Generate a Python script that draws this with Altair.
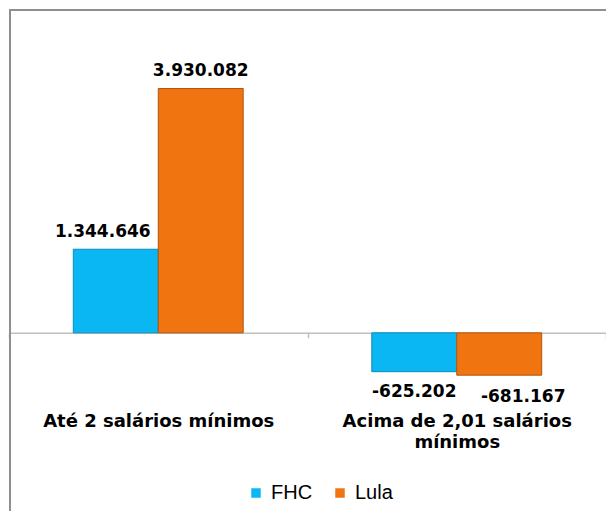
import altair as alt
import pandas as pd

titulo = "nível de renda"
categorias = ["Até 2 salários mínimos", "Acima de 2,01 salários mínimos"]
series = ["FHC", "Lula"]
valores_fhc = [1344646, -625202]
valores_lula = [3930082, -681167]
cores = ["#0BB7F2", "#F07511"]
bordas = ["#0A8CBA", "#B0560E"]

rows = []
for i, c in enumerate(categorias):
    rows.append({"categoria": c, "serie": "FHC", "valor": valores_fhc[i]})
    rows.append({"categoria": c, "serie": "Lula", "valor": valores_lula[i]})
df = pd.DataFrame(rows)
df["rotulo"] = df["valor"].map(lambda v: f"{v:,}".replace(",", "."))

H = 373
dom = [-1000000, 5000000]
zero_off = H * (0 - dom[0]) / (dom[1] - dom[0])

x_enc = alt.X(
    "categoria:N",
    sort=categorias,
    scale=alt.Scale(paddingInner=0, paddingOuter=0),
    axis=alt.Axis(
        title=None,
        orient="bottom",
        offset=-zero_off,
        domainColor="#c0c0c0",
        domainWidth=1.5,
        tickColor="#c0c0c0",
        tickWidth=1.5,
        tickSize=5,
        tickBand="extent",
        labelAngle=0,
        labelPadding=75,
        labelBaseline="top",
        labelLimit=0,
        labelFont="DejaVu Sans",
        labelFontWeight="bold",
        labelFontSize=18,
        labelColor="black",
        labelLineHeight=21,
        labelExpr="datum.label == 'Acima de 2,01 salários mínimos' ? ['Acima de 2,01 salários', 'mínimos'] : datum.label",
    ),
)
xo_enc = alt.XOffset("serie:N", sort=series, scale=alt.Scale(paddingInner=0, paddingOuter=0.757))
y_enc = alt.Y("valor:Q", scale=alt.Scale(domain=dom, nice=False, zero=False), axis=None)

base = alt.Chart(df)

bars = base.mark_bar(strokeWidth=1).encode(
    x=x_enc,
    xOffset=xo_enc,
    y=y_enc,
    color=alt.Color(
        "serie:N",
        sort=series,
        scale=alt.Scale(domain=series, range=cores),
        legend=alt.Legend(
            title=None,
            orient="none",
            legendX=237,
            legendY=461,
            direction="horizontal",
            symbolType="square",
            symbolSize=90,
            symbolStrokeWidth=0,
            labelFont="Liberation Sans",
            labelFontSize=20,
            labelColor="black",
            labelOffset=5,
            columnPadding=17,
        ),
    ),
    stroke=alt.Stroke("serie:N", sort=series, scale=alt.Scale(domain=series, range=bordas), legend=None),
)

txt_style = dict(font="DejaVu Sans", fontWeight="bold", fontSize=17, color="black", baseline="alphabetic")

pos_fhc = base.transform_filter("datum.valor > 0 && datum.serie == 'FHC'").mark_text(dy=-12.5, dx=-13, **txt_style).encode(
    x=x_enc, xOffset=xo_enc, y=y_enc, text="rotulo:N"
)
pos_other = base.transform_filter("datum.valor > 0 && datum.serie != 'FHC'").mark_text(dy=-12.5, **txt_style).encode(
    x=x_enc, xOffset=xo_enc, y=y_enc, text="rotulo:N"
)
neg_fhc = base.transform_filter("datum.valor < 0 && datum.serie == 'FHC'").mark_text(dy=25, **txt_style).encode(
    x=x_enc, xOffset=xo_enc, y=y_enc, text="rotulo:N"
)
neg_other = base.transform_filter("datum.valor < 0 && datum.serie != 'FHC'").mark_text(dy=27, dx=24, **txt_style).encode(
    x=x_enc, xOffset=xo_enc, y=y_enc, text="rotulo:N"
)

frame_df = pd.DataFrame({"k": [0]})
frame = alt.Chart(frame_df).mark_rect(fillOpacity=0, stroke="#8f8f8f", strokeWidth=2).encode(
    x=alt.value(1), x2=alt.value(612), y=alt.value(-12), y2=alt.value(500)
)
title_mark = alt.Chart(frame_df).mark_text(
    text=titulo, font="Liberation Sans", fontWeight="bold", fontSize=22, baseline="alphabetic", color="black"
).encode(x=alt.value(306), y=alt.value(-15))

chart = (
    alt.layer(frame, title_mark, bars, pos_fhc, pos_other, neg_fhc, neg_other)
    .properties(
        width=597,
        height=H,
        padding={"left": 1, "top": 14, "right": 0, "bottom": 116},
        autosize="none",
    )
    .configure_view(stroke=None)
)

chart.save("out.html", embed_options={"renderer": "svg", "actions": False})
